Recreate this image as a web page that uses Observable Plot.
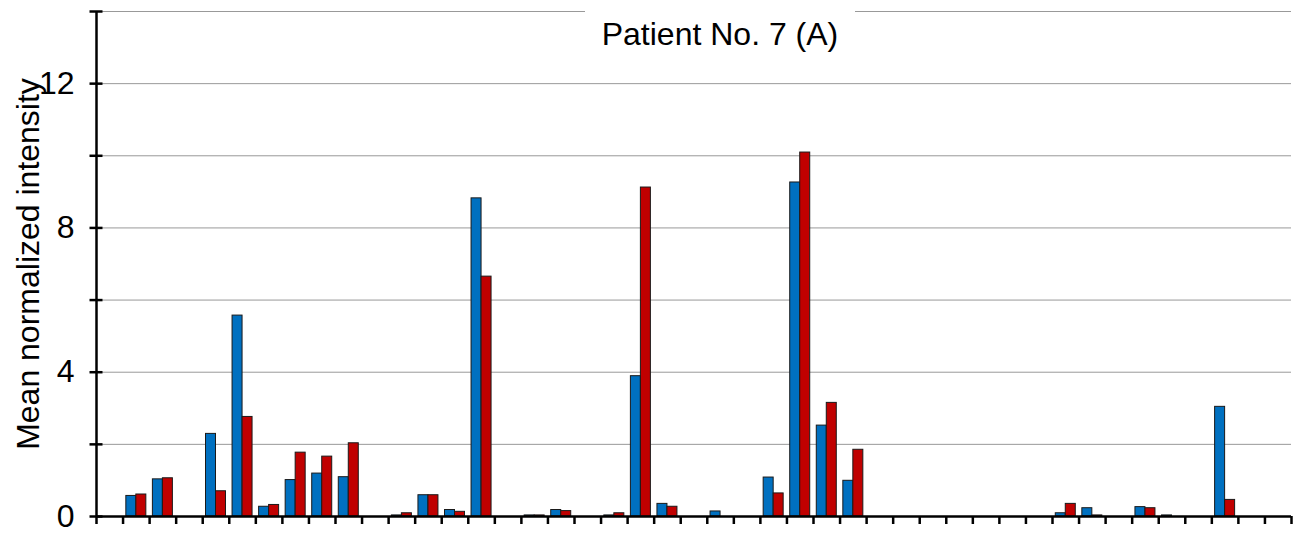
<!DOCTYPE html>
<html>
<head>
<meta charset="utf-8">
<script src="https://cdn.jsdelivr.net/npm/d3@7"></script>
<script src="https://cdn.jsdelivr.net/npm/@observablehq/plot@0.6"></script>
<style>
  html, body { margin: 0; padding: 0; background: #fff; }
  #wrap { position: relative; width: 1293px; height: 533px; font-family: "Liberation Sans", Arial, sans-serif; }
  #title {
    position: absolute; left: 585px; top: 0; width: 270px; height: 62px;
    background: #fff; text-align: center; font-size: 32px; line-height: 32px;
    padding-top: 18px; box-sizing: border-box; color: #000;
  }
</style>
</head>
<body>
<div id="wrap">
  <div id="chartHost"></div>
  <div id="title">Patient No. 7 (A)</div>
</div>
<script>
// 45 unlabelled positions along the x axis
const categories = d3.range(1, 46);

// Mean normalized intensity per position, blue series
const blueValues = [
  0, 0.57, 1.03, 0, 2.29, 5.57, 0.27, 1.01, 1.19, 1.09,
  0, 0.03, 0.59, 0.18, 8.82, 0, 0.03, 0.18, 0, 0.03,
  3.89, 0.35, 0, 0.14, 0, 1.08, 9.26, 2.52, 0.99, 0,
  0, 0, 0, 0, 0, 0, 0.09, 0.23, 0, 0.26,
  0.03, 0, 3.04, 0, 0
];

// Mean normalized intensity per position, red series
const redValues = [
  0, 0.61, 1.06, 0, 0.70, 2.76, 0.32, 1.77, 1.66, 2.03,
  0, 0.09, 0.59, 0.13, 6.65, 0, 0.03, 0.15, 0, 0.09,
  9.12, 0.27, 0, 0, 0, 0.64, 10.09, 3.15, 1.85, 0,
  0, 0, 0, 0, 0, 0, 0.35, 0.03, 0, 0.23,
  0, 0, 0.46, 0, 0
];

// y axis: gridlines/ticks every 2, labels every 4
const yGridTicks = [0, 2, 4, 6, 8, 10, 12, 14];
const yLabelTicks = [0, 4, 8, 12];
const yTitle = "Mean normalized intensity";

const rows = categories.map((c, i) => ({ pos: i, blue: blueValues[i], red: redValues[i] }));
const blueRows = rows.filter(d => d.blue > 0);
const redRows = rows.filter(d => d.red > 0);
const xTicks = d3.range(0, categories.length + 1);

const W = 1293, H = 533;
const mL = 96, mR = 2;
const band = (W - mL - mR) / categories.length;
const pad = (band - 20) / 2;
const font = '"Liberation Sans", Arial, sans-serif';

const chart = Plot.plot({
  width: W,
  height: H,
  marginLeft: mL,
  marginRight: mR,
  marginTop: 11,
  marginBottom: 17,
  style: { fontFamily: font, fontSize: "32px", color: "#000", background: "#fff" },
  x: { type: "linear", domain: [0, categories.length] },
  y: { domain: [0, 14] },
  marks: [
    Plot.ruleY(yGridTicks.filter(v => v > 0), { stroke: "#999", strokeWidth: 1 }),
    Plot.rectY(blueRows, {
      x1: d => d.pos, x2: d => d.pos + 1, y1: 0, y2: "blue",
      insetLeft: pad, insetRight: band - pad - 10,
      fill: "#0070C0", stroke: "#1a1a1a", strokeWidth: 1
    }),
    Plot.rectY(redRows, {
      x1: d => d.pos, x2: d => d.pos + 1, y1: 0, y2: "red",
      insetLeft: pad + 10, insetRight: pad,
      fill: "#C00000", stroke: "#1a1a1a", strokeWidth: 1
    }),
    Plot.axisX({ ticks: xTicks, tickFormat: () => "", tickSize: 8, strokeWidth: 2.5, label: null }),
    Plot.axisY({ ticks: yGridTicks, tickFormat: () => "", tickSize: 13, dx: 6.5, strokeWidth: 2.5, label: null }),
    Plot.text(yLabelTicks, {
      y: d => d, text: d => String(d), frameAnchor: "left", dx: -22,
      textAnchor: "end", lineAnchor: "middle", fontSize: 32, fill: "#000"
    }),
    Plot.ruleX([0], { stroke: "#000", strokeWidth: 2.5 }),
    Plot.ruleY([0], { stroke: "#000", strokeWidth: 2.5 }),
    Plot.text([yTitle], {
      frameAnchor: "left", rotate: -90, dx: -58, lineAnchor: "bottom",
      textAnchor: "middle", fontSize: 32, fill: "#000"
    })
  ]
});

document.getElementById("chartHost").appendChild(chart);
</script>
</body>
</html>
